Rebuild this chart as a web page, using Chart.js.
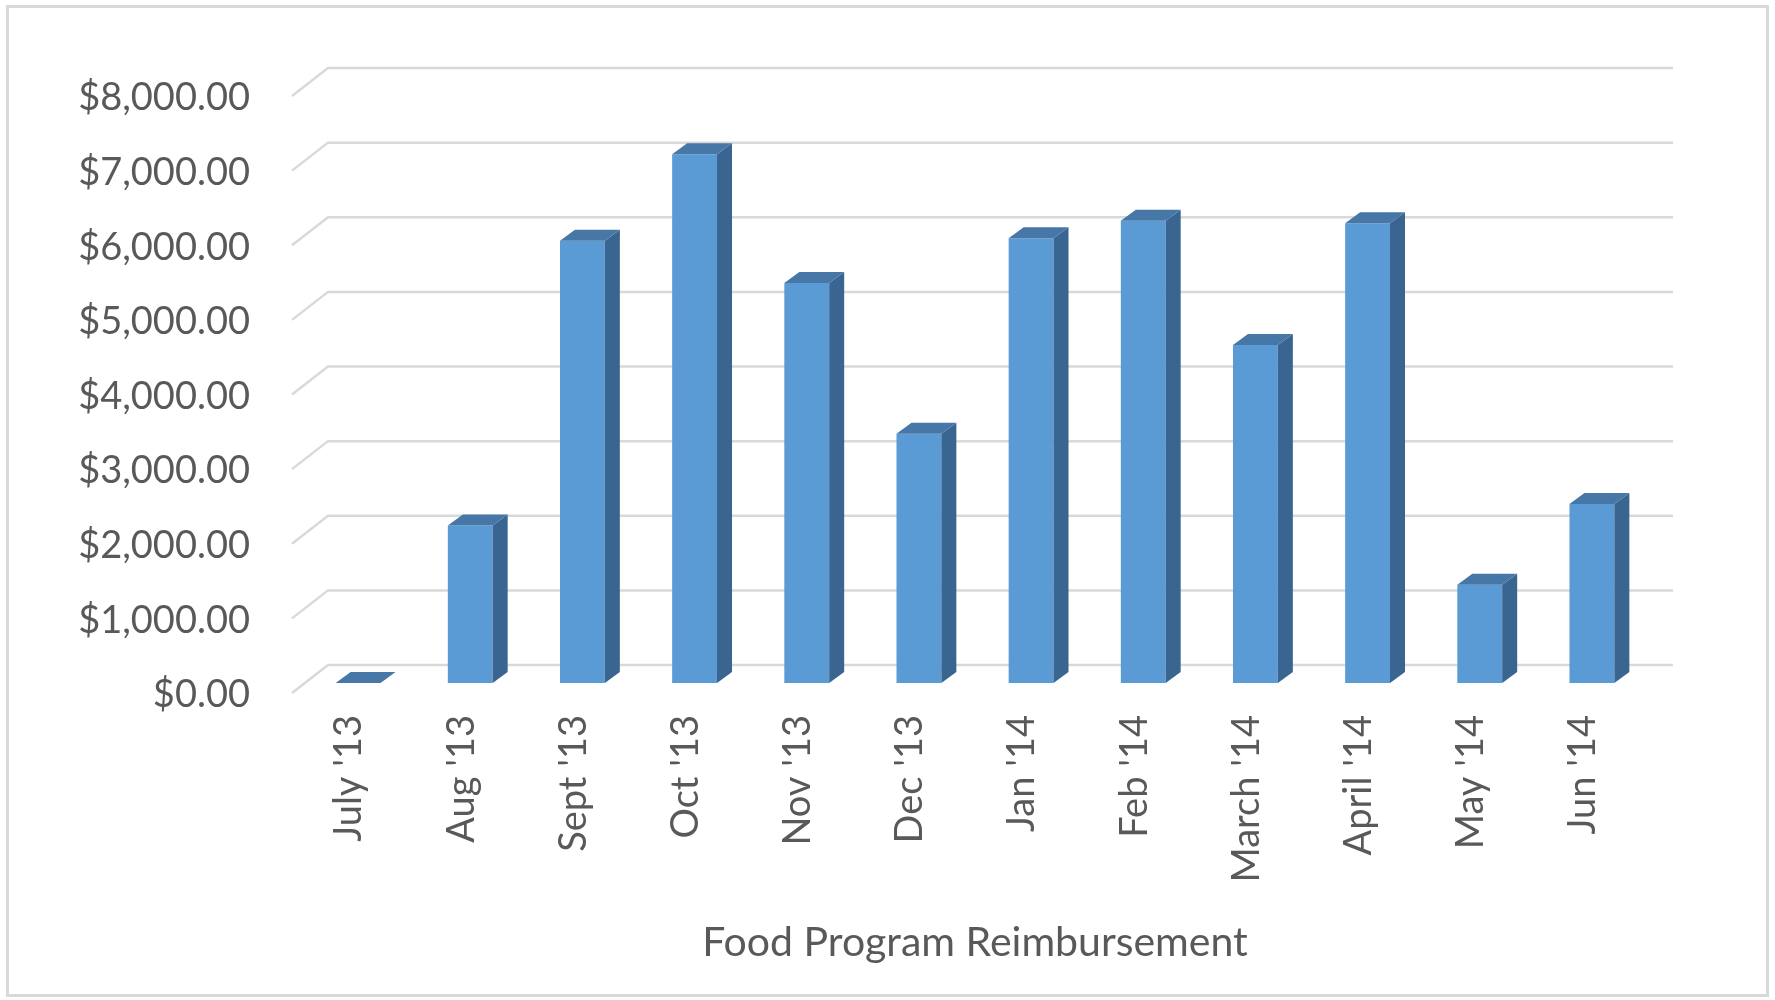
<!DOCTYPE html>
<html>
<head>
<meta charset="utf-8">
<title>Food Program Reimbursement</title>
<script src="https://cdn.jsdelivr.net/npm/chart.js@4.4.0/dist/chart.umd.min.js"></script>
<style>
html, body { margin: 0; padding: 0; background: #ffffff; }
canvas { display: block; }
</style>
</head>
<body>
<canvas id="chart" width="1775" height="1000"></canvas>
<script>
// ----------------------------------------------------------------------
//	Food Program Reimbursement, 3-D style column chart
// ----------------------------------------------------------------------
const months = ["July '13", "Aug '13", "Sept '13", "Oct '13", "Nov '13", "Dec '13",
	"Jan '14", "Feb '14", "March '14", "April '14", "May '14", "Jun '14"]
const amounts = [0, 2110, 5925, 7085, 5360, 3340, 5960, 6195, 4530, 6160, 1315, 2400]
const y_ticks = [0, 1000, 2000, 3000, 4000, 5000, 6000, 7000, 8000]
const axis_title = "Food Program Reimbursement"

const text_color = "#595959"
const grid_color = "#d9d9d9"
const face_color = "#5b9bd5"
const side_color = "#3a6590"
const top_color = "#4677a6"

// depth of a bar and of the floor / wall
const bar_dx = 15
const bar_dy = 11

// ----------------------------------------------------------------------
function money(v)
{
	return "$" + v.toLocaleString("en-US", {minimumFractionDigits: 2, maximumFractionDigits: 2})
}

// ----------------------------------------------------------------------
const frame_plugin = {
	id: "frame",
	beforeDraw(chart)
		{
		const ctx = chart.ctx
		ctx.save()
		ctx.strokeStyle = grid_color
		ctx.lineWidth = 3
		ctx.strokeRect(7.5, 6.5, 1760, 989)
		ctx.restore()
		}
	}

// gridlines: short diagonal from the front edge, then along the back wall
const wall_plugin = {
	id: "wall",
	beforeDatasetsDraw(chart)
		{
		const ctx = chart.ctx
		const area = chart.chartArea
		const y_scale = chart.scales.y
		ctx.save()
		ctx.strokeStyle = grid_color
		ctx.lineWidth = 2.5
		for (const v of y_ticks)
			{
			const yy = y_scale.getPixelForValue(v)
			ctx.beginPath()
			ctx.moveTo(area.left - 10, yy + 10)
			ctx.lineTo(area.left + 26, yy - 18)
			ctx.lineTo(area.right + 25, yy - 18)
			ctx.stroke()
			}
		ctx.restore()
		}
	}

// side and top faces of each bar
const depth_plugin = {
	id: "depth",
	afterDatasetsDraw(chart)
		{
		const ctx = chart.ctx
		const meta = chart.getDatasetMeta(0)
		ctx.save()
		for (const bar of meta.data)
			{
			const p = bar.getProps(["x", "y", "base", "width"], true)
			const left = p.x - p.width / 2
			const right = p.x + p.width / 2

			ctx.fillStyle = side_color
			ctx.beginPath()
			ctx.moveTo(right, p.y)
			ctx.lineTo(right + bar_dx, p.y - bar_dy)
			ctx.lineTo(right + bar_dx, p.base - bar_dy)
			ctx.lineTo(right, p.base)
			ctx.closePath()
			ctx.fill()

			ctx.fillStyle = top_color
			ctx.beginPath()
			ctx.moveTo(left, p.y)
			ctx.lineTo(left + bar_dx, p.y - bar_dy)
			ctx.lineTo(right + bar_dx, p.y - bar_dy)
			ctx.lineTo(right, p.y)
			ctx.closePath()
			ctx.fill()
			}
		ctx.restore()
		}
	}

// ----------------------------------------------------------------------
const graph_data = {
	labels: months,
	datasets: [{
		label: axis_title,
		data: amounts,
		backgroundColor: face_color,
		borderWidth: 0,
		barPercentage: 0.4,
		categoryPercentage: 1.0
		}]
	}

const config = {
	type: "bar",
	data: graph_data,
	plugins: [frame_plugin, wall_plugin, depth_plugin],
	options: {
		responsive: false,
		devicePixelRatio: 1,
		animation: false,
		layout: {padding: {left: 10, right: 127, top: 86, bottom: 0}},
		plugins: {
			legend: {display: false},
			tooltip: {enabled: false}
			},
		scales: {
			x: {
				grid: {display: false, drawTicks: false},
				border: {display: false},
				ticks: {
					color: text_color,
					font: {family: "Lato", size: 38},
					minRotation: 90,
					maxRotation: 90,
					autoSkip: false,
					padding: 32,
					labelOffset: -9
					},
				title: {
					display: true,
					text: axis_title,
					color: text_color,
					font: {family: "Lato", size: 41},
					padding: {top: 0, bottom: 33}
					},
				afterFit: function (s) { s.height = 317 }
				},
			y: {
				min: 0,
				max: 8000,
				grid: {display: false, drawTicks: false},
				border: {display: false},
				ticks: {
					color: text_color,
					font: {family: "Lato", size: 38},
					padding: 52,
					labelOffset: 12,
					callback: function (v) { return money(v) }
					},
				afterBuildTicks: function (s) { s.ticks = y_ticks.map(v => ({value: v})) },
				afterFit: function (s) { s.width = 292 }
				}
			}
		}
	}

const context = document.getElementById("chart")
const chart = new Chart(context, config)

// ----------------------------------------------------------------------
</script>
</body>
</html>
